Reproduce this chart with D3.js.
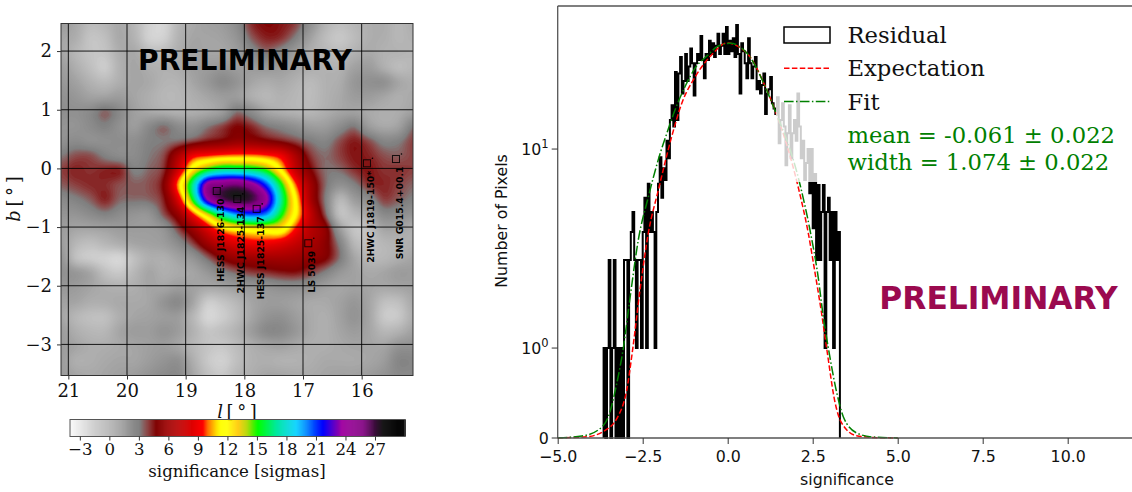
<!DOCTYPE html>
<html><head><meta charset="utf-8">
<script src="https://cdn.jsdelivr.net/npm/d3@7"></script>
<style>html,body{margin:0;padding:0;background:#fff;overflow:hidden}svg{display:block}</style>
</head><body><svg id="c" width="1132" height="492"></svg>
<script>
// ---------- left panel data ----------
const lTicks=[21,20,19,18,17,16];
const bTicks=[2,1,0,-1,-2,-3];
const cbTicks=[-3,0,3,6,9,12,15,18,21,24,27];
const lDomain=[21.125,15.125];
const bDomain=[2.47,-3.53];
const sourceNames=["HESS J1826-130","2HWC J1825-134","HESS J1825-137","LS 5039","2HWC J1819-150*","SNR G015.4+00.1"];
const sourceL=[18.47,18.12,17.79,16.91,15.91,15.415];
const sourceB=[-0.385,-0.52,-0.69,-1.276,0.087,0.16];
// significance, 0.25 degree spacing
const sigRows=[
[1.5,0.8,-0.3,0,0.8,0,-1.5,-1.8,0,0.8,1.2,1.5,2.5,4.3,4.8,4.6,4.0,2.2,0.3,-0.5,0,0.5,0.6,0,0.5],
[1.0,0.5,-0.8,-0.5,0.8,0.2,-1.5,-1.5,0.2,1,1,1.2,2,3.6,4.4,4.2,3,1.2,-0.3,-1,-0.3,0.5,0.5,0,0.3],
[1.0,0,-0.8,-0.8,0.5,0.8,-0.3,-0.3,0.5,1.2,1.0,1.0,1.5,2.5,3.3,2.6,1.5,0.5,0,-0.3,0.3,0.8,0.3,0.2,0],
[1.5,0.5,-0.5,-1.2,0.3,1,0.5,0.3,0.6,1.3,1.5,1.8,1.5,1.6,1.8,1.5,1,0.5,0.3,0.3,1.2,1.5,0.5,-0.3,0],
[1.8,1.2,0.3,-0.2,0.5,1,0.8,0.2,0.2,1,1.8,2.6,2,1,0.6,0.8,0.3,-0.2,0.3,0.6,1.8,2.2,2.2,1,0.5],
[2.2,1.8,1.2,1.2,1.5,1,0.5,0,0,0.5,1,1.5,1.5,0.5,0,0.3,0,-0.3,0.3,0.8,1.5,1.5,1,0.5,0.8],
[2.3,2.2,2.6,3.5,2.6,1.3,0.8,0.5,0.3,0.5,0.8,1.5,3.3,2.4,1,0.5,0.2,0,0.5,1,1.2,0.8,0.5,0.6,1.2],
[2,2,2.5,3,2.2,1.5,2.6,3.4,2.5,2.3,3.2,4.0,4.8,4.3,3.3,2.8,2.2,1.5,1.5,2.4,3.2,1.5,0.8,1.2,3.2],
[2.2,2.5,2.2,2.3,2.4,2.3,3,3.2,3.4,3.9,4.6,5,5.6,5.5,5,4.5,3.9,3.2,2.8,3.8,4.5,3.8,2.8,3,4],
[3.2,3.8,3.8,3.0,2.5,2.5,3.2,3.9,6.5,9,9.6,10,10.2,10.2,9.8,9,6.5,4.2,3.4,4,4.6,4.4,3.8,3.6,4],
[4,4.4,4.2,4.4,4.4,3,3.5,4.3,8,12.5,15.5,17,17,16.5,15,11.5,7.5,5,3.4,3.4,4.2,4.6,4.2,4.2,4],
[3.6,4,4.3,4.3,3.8,3.6,3.8,5,10.5,17,24.5,25.5,26,24.5,21,15.5,10,6.2,3.5,2.2,3,4.2,4.4,4,3.5],
[2.6,3,3.6,4.4,3.5,3.4,3.5,4.5,8.5,15.5,23.5,26.5,27.5,27,24,17,11.5,6.5,3.2,0,1.5,2.5,4,3.6,3],
[2,2,2.5,3,2.5,2,2,3.8,5.8,9.5,13.5,17.5,20,21,20,15.5,11.5,7.5,3.8,-0.5,0,1,2.6,2.5,2],
[1.5,1,1,1.2,1.5,1.5,1.5,2,4,6,8.5,10.8,11.8,12.3,12.5,12.3,9.5,7,5.5,1.5,-0.8,-0.5,1,1,0.5],
[1.5,0,-0.5,0,0.5,1,1.2,1.5,2.5,4,6,7.5,8.5,9,9,8.5,7.5,6.5,5.3,3,0,-0.5,0,0.3,0.5],
[2,-0.5,-1.2,-1.5,-1.8,-0.5,0.5,0.5,1.2,2,3.5,5,5.8,6,6.2,6.2,6,5.5,5,3.3,1,0,0,0.5,1],
[2.2,1.8,1,-0.5,-1,0,1,0.5,0.8,1,1.8,2.8,3.5,4,4.2,4.5,4.6,4,3,1.8,1.2,0.8,1,1.5,1.5],
[1.8,1.5,1.0,0.5,0.3,0.5,1,1,1.5,1.2,0.8,1,1.5,1.8,2,2.3,2.3,2,1.3,1,1.2,1,0.8,1,1.2],
[1.2,1,0.5,0.5,0.8,0.8,1,2,2.6,1,-1.2,-0.8,0,1,1.5,1.5,1.2,0.8,0.8,1.2,1.8,1,-0.5,-0.5,0.8],
[1,0,-0.5,-0.5,0.5,1,1.2,1.5,1.5,0,-1.8,-1.3,-0.3,1,2,2.2,1.5,0.8,0.5,1.2,2,1,-1,-1,0.5],
[1.5,0.5,0,0,1,1.5,1.5,2,1.5,0.3,-0.8,-0.5,0.3,1.5,2.6,2.6,1.8,0.8,0.5,1,1.5,1,0,0.3,1.2],
[1.5,1,0.5,0.5,0.8,1,1.3,1.5,1,0,-0.8,-1,-0.3,0.5,1,1.2,0.8,0.5,0.5,0.8,1,1,1,2,2.2],
[1.5,0.5,0.5,0.8,1,1,1.5,2,2.2,0.5,-1,-1.5,-0.5,0.3,0.5,0.3,0.3,0.5,0.8,0.8,0.8,1,1.5,2.8,2.8],
[1.5,1,0.8,1,1.3,1.5,2,2.5,2.6,1,-0.5,-1,0,0.5,1,1,0.8,0.8,1,1.2,1.2,1.5,2,2.6,2.6]
];
// colour map
const cmapValues=[-4,3.1,3.65,3.95,4.8,8.5,9.5,10,10.9,11.3,12,13.1,14,15.1,17,19,19.9,21.7,23.6,25.8,27.2,27.8,30];
const cmapColors=["#fafafa","#808080","#8a5555","#8c4040","#800000","#e00000","#ff0000","#ff7000","#ffe000","#ffff00","#ffff00","#ffc800","#b0d800","#00ff00","#00e8a0","#00d0ff","#0090ff","#0000ff","#a000a0","#800080","#301030","#181818","#000000"];

// ---------- right panel data ----------
const sigTicks=[-5,-2.5,0,2.5,5,7.5,10];
const countTicks=[0,1,10];
const binStart=-3.65, binWidth=0.05;
const residual=[
1,0,1,2.77,0,1,2.77,0,1,0,
1,0,2.77,2.77,0,2.77,3.83,4.83,2.77,1,
2.77,2.77,1,3.83,5.7,1,6.7,3.83,4.83,3.83,
1,4.83,6.7,9.1,5.7,8,7,11,9,14,
16.6,13,24.4,14,24,29,19,22,30,22,
26,32,27,18.6,27,30,28,37,28,22.7,
30,28,35,30,34,29,33,38,30,33,
38,30,41,30,35,31,36,29,42,30,
19,34,31,27,22.7,36,27,22.7,26,29,
20,22,19,21,24,15,19,20,23,17,
16,15,18.2,10.7,14,17,13,8.3,12,16.6,
9,12,14,11,19,13,9,11,7,8.5,
10,6,10,4,7.5,2.77,6.6,2.77,4.83,6.6,
1,4.83,5.7,2.77,4.83,1,4.83,2.77,3.83
];
const expectSig=[-5,-4.15,-3.67,-3.23,-2.97,-2.79,-2.58,-2.335,-2.04,-1.65,-1.35,-0.96,-0.47,-0.03,0.56,1.15,1.39,2.08,2.37,2.57,2.76,2.91,3.16,3.35,3.79,4.4,5];
const expectation=[0.001,0.014,0.07,0.237,0.533,1,1.955,3.78,6.22,11.5,17,23,29.8,34.1,30.4,19.8,15.7,6.37,3.78,2.38,1.5,1,0.39,0.167,0.026,0.004,0.001];
const fitSig=[-5,-4.29,-3.81,-3.51,-3.26,-3.07,-2.87,-2.63,-2.335,-2.02,-1.79,-1.55,-1.26,-0.96,-0.58,-0.32,0.07,0.56,1.33,2.13,2.42,2.66,2.81,2.96,3.21,3.4,3.79,4.27,5];
const fitCurve=[0.002,0.022,0.089,0.237,0.611,1,1.8,3.49,5.74,9.1,12,15.7,20.5,25.5,29.7,32.6,34,30.4,16.6,6.6,3.92,2.28,1.44,1,0.5,0.237,0.056,0.011,0.001];
const legendLabels=["Residual","Expectation","Fit"];
const fitLines=["mean = -0.061 ± 0.022","width = 1.074 ± 0.022"];

// ---------- helpers ----------
const svg=d3.select("#c");
const SERIF="'DejaVu Serif',serif", SANS="'DejaVu Sans',sans-serif";
const AX="#333";
const defs=svg.append("defs");

// ---------- left: map ----------
const L={l:61,r:413,t:23.5,b:375.5};
const lx=d3.scaleLinear().domain(lDomain).range([L.l,L.r]);
const by=d3.scaleLinear().domain(bDomain).range([L.t,L.b]);
const colour=d3.scaleLinear().domain(cmapValues).range(cmapColors).clamp(true);

// smooth the read grid for display, as an image would be resampled
const K=4, nR=sigRows.length, nC=sigRows[0].length;
const W=(nC-1)*K+1, H=(nR-1)*K+1;
function cr(p0,p1,p2,p3,t){return 0.5*((2*p1)+(-p0+p2)*t+(2*p0-5*p1+4*p2-p3)*t*t+(-p0+3*p1-3*p2+p3)*t*t*t);}
const at=(r,c)=>sigRows[Math.max(0,Math.min(nR-1,r))][Math.max(0,Math.min(nC-1,c))];
const fine=new Float64Array(W*H);
for(let j=0;j<H;j++){
  const r=Math.min(nR-2,Math.floor(j/K)), u=j/K-r;
  for(let i=0;i<W;i++){
    const c=Math.min(nC-2,Math.floor(i/K)), t=i/K-c;
    const col=[-1,0,1,2].map(d=>cr(at(r+d,c-1),at(r+d,c),at(r+d,c+1),at(r+d,c+2),t));
    fine[j*W+i]=cr(col[0],col[1],col[2],col[3],u);
  }
}
const levels=d3.range(-4,30,0.12);
const contours=d3.contours().size([W,H]).thresholds(levels).smooth(true)(fine);
const gridX=d3.scaleLinear().domain([0.5,W-0.5]).range(lDomain);
const gridY=d3.scaleLinear().domain([0.5,H-0.5]).range(bDomain);
const path=d3.geoPath(d3.geoTransform({point(x,y){this.stream.point(lx(gridX(x)),by(gridY(y)));}}));
defs.append("clipPath").attr("id","mapClip").append("rect")
  .attr("x",L.l).attr("y",L.t).attr("width",L.r-L.l).attr("height",L.b-L.t);
const map=svg.append("g").attr("clip-path","url(#mapClip)");
map.append("rect").attr("x",L.l).attr("y",L.t).attr("width",L.r-L.l).attr("height",L.b-L.t).attr("fill",colour(-4));
map.selectAll("path").data(contours).join("path").attr("d",path).attr("fill",d=>colour(d.value));
// grid
map.selectAll("line.gv").data(lTicks).join("line").attr("x1",d=>lx(d)).attr("x2",d=>lx(d)).attr("y1",L.t).attr("y2",L.b)
  .attr("stroke","#000").attr("stroke-opacity",0.88).attr("stroke-width",1);
map.selectAll("line.gh").data(bTicks).join("line").attr("y1",d=>by(d)).attr("y2",d=>by(d)).attr("x1",L.l).attr("x2",L.r)
  .attr("stroke","#000").attr("stroke-opacity",0.88).attr("stroke-width",1);
// sources
const srcG=svg.append("g");
sourceNames.forEach((n,i)=>{
  const x=lx(sourceL[i]),y=by(sourceB[i]);
  srcG.append("rect").attr("x",x-3.5).attr("y",y-3.5).attr("width",7).attr("height",7)
    .attr("fill","none").attr("stroke","#000").attr("stroke-opacity",0.85).attr("stroke-width",1);
  srcG.append("circle").attr("cx",x+5.5).attr("cy",y-5).attr("r",0.8).attr("fill","#000");
  srcG.append("text").attr("transform",`translate(${x+7},${y+7.5}) rotate(-90)`).attr("text-anchor","end")
    .attr("font-family",SANS).attr("font-weight","bold").attr("font-size",9.3).attr("fill","#000").text(n);
});
svg.append("text").attr("x",245).attr("y",69.5).attr("text-anchor","middle").attr("font-family",SANS).attr("font-weight","bold")
  .attr("font-size",28.1).attr("fill","#000").text("PRELIMINARY");
svg.append("rect").attr("x",L.l).attr("y",L.t).attr("width",L.r-L.l).attr("height",L.b-L.t).attr("fill","none").attr("stroke",AX).attr("stroke-width",1);

function style(g,font,size){
  g.select(".domain").remove();
  g.selectAll(".tick line").attr("stroke",AX).attr("stroke-width",1);
  g.selectAll("text").attr("font-family",font).attr("font-size",size).attr("fill","#111");
}
const minus=d=>String(d).replace("-","\u2212");
svg.append("g").attr("transform",`translate(0,${L.b})`)
  .call(d3.axisBottom(lx).tickValues(lTicks).tickSize(4).tickPadding(5).tickFormat(minus))
  .call(g=>style(g,SERIF,18));
svg.append("g").attr("transform",`translate(${L.l},0)`)
  .call(d3.axisLeft(by).tickValues(bTicks).tickSize(4).tickPadding(5).tickFormat(minus))
  .call(g=>style(g,SERIF,18));
const xl=svg.append("text").attr("x",237).attr("y",417.5).attr("text-anchor","middle").attr("font-family",SERIF).attr("font-size",18).attr("fill","#111");
xl.append("tspan").attr("font-style","italic").text("l");xl.append("tspan").text("\u2009[\u2009\u00b0\u2009]");
const yl=svg.append("text").attr("transform","translate(20,199) rotate(-90)").attr("text-anchor","middle").attr("font-family",SERIF).attr("font-size",18).attr("fill","#111");
yl.append("tspan").attr("font-style","italic").text("b");yl.append("tspan").text("\u2009[\u2009\u00b0\u2009]");

// colour bar
const cb=d3.scaleLinear().domain([-4,30.05]).range([70,405]);
const cbY=419.5,cbH=17;
svg.append("g").selectAll("rect").data(d3.range(-4,30.05,0.1)).join("rect")
  .attr("x",d=>cb(d)).attr("y",cbY).attr("width",d=>cb(d+0.1)-cb(d)+0.4).attr("height",cbH).attr("fill",d=>colour(d+0.05));
svg.append("rect").attr("x",70).attr("y",cbY).attr("width",335).attr("height",cbH).attr("fill","none").attr("stroke","#555").attr("stroke-width",1);
svg.append("g").attr("transform",`translate(0,${cbY+cbH})`)
  .call(d3.axisBottom(cb).tickValues(cbTicks).tickSize(4).tickPadding(3).tickFormat(minus))
  .call(g=>style(g,SERIF,16.6));
svg.append("text").attr("x",237).attr("y",477).attr("text-anchor","middle").attr("font-family",SERIF).attr("font-size",16.6).attr("fill","#111").text("significance [sigmas]");

// ---------- right: histogram ----------
const R={l:557.7,r:1133,t:6,b:438};
const sx=d3.scaleLinear().domain([-5,(R.r-727.7)/34]).range([R.l,R.r]);
// symmetric-log axis: linear below 1, logarithmic above
const tf=v=>v<=1?0.452*v:0.452+Math.log10(v);
const ty=d3.scaleLinear().domain([0,(R.b-R.t)/199]).range([R.b,R.t]);
const sy=v=>ty(tf(v));
const edges=residual.map((v,i)=>({e:binStart+i*binWidth,v}));
edges.unshift({e:binStart,v:0});
edges.push({e:binStart+residual.length*binWidth,v:0});
const hist=d3.line().x(d=>sx(d.e)).y(d=>sy(d.v)).curve(d3.curveStepAfter);
svg.append("path").attr("d",hist(edges)).attr("fill","none").attr("stroke","#000").attr("stroke-width",2).attr("stroke-linejoin","miter");
const crv=d3.line().x(d=>sx(d[0])).y(d=>sy(d[1])).curve(d3.curveMonotoneX);
svg.append("path").attr("d",crv(d3.zip(expectSig,expectation))).attr("fill","none").attr("stroke","#ff0000").attr("stroke-width",1.5).attr("stroke-dasharray","5.5,2.4");
svg.append("path").attr("d",crv(d3.zip(fitSig,fitCurve))).attr("fill","none").attr("stroke","#008000").attr("stroke-width",1.5).attr("stroke-dasharray","9.6,2.4,1.5,2.4");
// legend (translucent panel)
svg.append("rect").attr("x",776).attr("y",12).attr("width",356).attr("height",170).attr("fill","#fff").attr("fill-opacity",0.8);
svg.append("rect").attr("x",784).attr("y",27).attr("width",46).attr("height",16).attr("fill","none").attr("stroke","#000").attr("stroke-width",1.5);
svg.append("line").attr("x1",784).attr("x2",830).attr("y1",68.3).attr("y2",68.3).attr("stroke","#ff0000").attr("stroke-width",1.5).attr("stroke-dasharray","5.5,2.4");
svg.append("line").attr("x1",784).attr("x2",830).attr("y1",101.5).attr("y2",101.5).attr("stroke","#008000").attr("stroke-width",1.5).attr("stroke-dasharray","9.6,2.4,1.5,2.4");
const legY=[43,76,109.5];
legendLabels.forEach((t,i)=>svg.append("text").attr("x",847.5).attr("y",legY[i]).attr("font-family",SERIF).attr("font-size",22.7).attr("fill","#111").text(t));
const fitY=[143,170];
fitLines.forEach((t,i)=>svg.append("text").attr("x",847.5).attr("y",fitY[i]).attr("font-family",SERIF).attr("font-size",22.7).attr("fill","#008000").text(t));
svg.append("text").attr("x",998.5).attr("y",308.5).attr("text-anchor","middle").attr("font-family",SANS).attr("font-weight","bold").attr("font-size",31.3).attr("fill","#9b0a4f").text("PRELIMINARY");
// spines and axes
const SP="#555";
[[R.l,R.t,R.r,R.t],[R.l,R.t,R.l,R.b],[R.l,R.b,R.r,R.b]].forEach(s=>svg.append("line").attr("x1",s[0]).attr("y1",s[1]).attr("x2",s[2]).attr("y2",s[3]).attr("stroke",SP).attr("stroke-width",1.3));
svg.append("g").attr("transform",`translate(0,${R.b})`)
  .call(d3.axisBottom(sx).tickValues(sigTicks).tickSize(6).tickPadding(7).tickFormat(d=>d3.format(".1f")(d).replace("-","\u2212")))
  .call(g=>style(g,SANS,15.8));
const yAxis=svg.append("g").attr("transform",`translate(${R.l},0)`);
countTicks.forEach(v=>{
  const y=sy(v);
  yAxis.append("line").attr("x1",-6).attr("x2",0).attr("y1",y).attr("y2",y).attr("stroke",AX);
  const t=yAxis.append("text").attr("x",-9).attr("y",y+5.5).attr("text-anchor","end").attr("font-family",SANS).attr("font-size",15.8).attr("fill","#111");
  if(v===0)t.text("0");
  else{t.append("tspan").text("10");t.append("tspan").attr("dy",-6.5).attr("font-size",11.5).text(Math.log10(v));}
});
svg.append("text").attr("transform","translate(507,221) rotate(-90)").attr("text-anchor","middle").attr("font-family",SANS).attr("font-size",15.8).attr("fill","#111").text("Number of Pixels");
svg.append("text").attr("x",847).attr("y",485).attr("text-anchor","middle").attr("font-family",SANS).attr("font-size",15.8).attr("fill","#111").text("significance");
</script></body></html>
